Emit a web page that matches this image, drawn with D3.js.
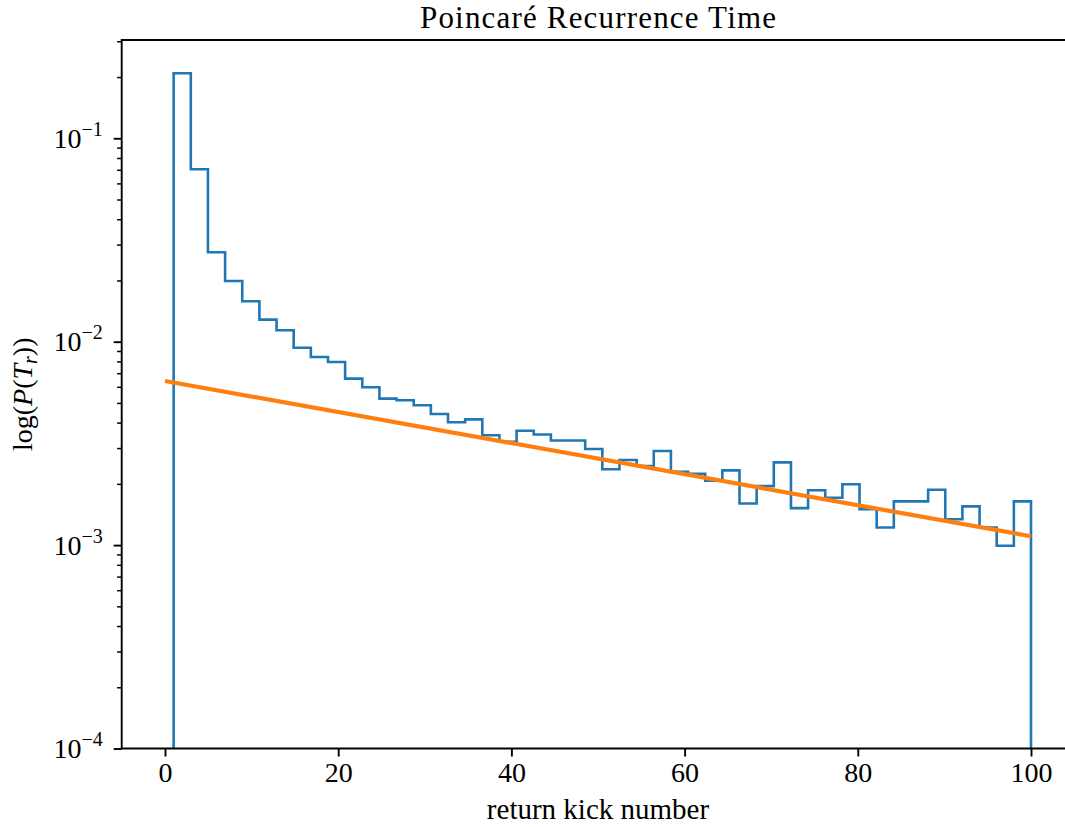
<!DOCTYPE html>
<html>
  <head>
    <meta charset="utf-8">
    <title>Poincaré Recurrence Time</title>
    <style>
      body { margin: 0; background: white; }
      .hist { fill: none; stroke: #1f77b4; stroke-width: 2.6; stroke-linejoin: miter; }
      .fit { fill: none; stroke: #ff7f0e; stroke-width: 4.2; }
      .spine { stroke: black; stroke-width: 1.9; fill: none; }
    </style>
  </head>
  <body>
    <script src="https://d3js.org/d3.v7.min.js"></script>
    <script>
      const width = 1065;
      const height = 827;
      const serif = "Liberation Serif, serif";

      // histogram: 50 bins between 1 and 100, densities
      const binStart = 1;
      const binEnd = 100;
      const density = [
        0.2089, 0.0704, 0.02751, 0.01987, 0.01580, 0.01283, 0.01138, 0.00934, 0.00841, 0.00795,
        0.00658, 0.00597, 0.00525, 0.00515, 0.00487, 0.00441, 0.00402, 0.00415, 0.00347, 0.00322,
        0.00365, 0.00350, 0.00327, 0.00327, 0.00297, 0.00236, 0.00262, 0.00245, 0.00290, 0.00229,
        0.00224, 0.00207, 0.00233, 0.00160, 0.00195, 0.00255, 0.00152, 0.00186, 0.00171, 0.00199,
        0.00150, 0.00122, 0.00164, 0.00164, 0.00187, 0.00134, 0.00155, 0.00122, 0.000993, 0.00164
      ];

      // exponential fit (straight on the log axis)
      const fitX = [0, 100];
      const fitY = [0.00641, 0.001105];

      const xTicks = [0, 20, 40, 60, 80, 100];
      const yMajor = [1e-4, 1e-3, 1e-2, 1e-1];
      const yExp = ["−4", "−3", "−2", "−1"];

      const axLeft = 121.7, axRight = 1074.3, axTop = 40, axBottom = 748.5;

      const x = d3.scaleLinear().domain([-5, 105]).range([axLeft, axRight]);
      const y = d3.scaleLog().domain([1e-4, 0.3042]).range([axBottom, axTop]);

      const svg = d3.select("body")
        .append("svg")
        .attr("width", width)
        .attr("height", height)
        .attr("font-family", serif);

      svg.append("clipPath")
        .attr("id", "plotArea")
        .append("rect")
        .attr("x", axLeft).attr("y", axTop)
        .attr("width", axRight - axLeft).attr("height", axBottom - axTop);

      const plot = svg.append("g").attr("clip-path", "url(#plotArea)");

      // step outline of the histogram
      const nBins = density.length;
      const edges = d3.range(nBins + 1).map(i => binStart + (binEnd - binStart) * i / nBins);
      const pts = [[x(edges[0]), axBottom + 10]];
      density.forEach((d, i) => {
        pts.push([x(edges[i]), y(d)]);
        pts.push([x(edges[i + 1]), y(d)]);
      });
      pts.push([x(edges[nBins]), axBottom + 10]);

      plot.append("path")
        .attr("class", "hist")
        .attr("d", d3.line()(pts));

      plot.append("path")
        .attr("class", "fit")
        .attr("d", d3.line().x(d => x(d[0])).y(d => y(d[1]))(fitX.map((v, i) => [v, fitY[i]])));

      // x axis
      const xAxis = svg.append("g")
        .attr("transform", `translate(0,${axBottom})`)
        .call(d3.axisBottom(x).tickValues(xTicks).tickSize(8).tickPadding(6).tickFormat(d3.format("d")));
      xAxis.attr("font-family", serif);
      xAxis.select(".domain").remove();
      xAxis.selectAll(".tick line").attr("stroke-width", 1.9);
      xAxis.selectAll(".tick text").attr("font-size", 28).attr("fill", "black");

      // y axis, minor ticks
      const yMinor = [];
      yMajor.forEach(p => {
        for (let k = 2; k <= 9; k++) if (p * k <= 0.3042) yMinor.push(p * k);
      });
      const yMinorAxis = svg.append("g")
        .attr("transform", `translate(${axLeft},0)`)
        .call(d3.axisLeft(y).tickValues(yMinor).tickSize(4.6).tickFormat(""));
      yMinorAxis.select(".domain").remove();
      yMinorAxis.selectAll(".tick line").attr("stroke-width", 1.5);

      // y axis, major ticks with 10^n labels
      const yAxis = svg.append("g")
        .attr("transform", `translate(${axLeft},0)`)
        .call(d3.axisLeft(y).tickValues(yMajor).tickSize(8).tickFormat(""));
      yAxis.attr("font-family", serif);
      yAxis.select(".domain").remove();
      yAxis.selectAll(".tick line").attr("stroke-width", 1.9);

      yAxis.selectAll(".tick")
        .append("text")
        .attr("x", -19)
        .attr("y", 9)
        .attr("text-anchor", "end")
        .attr("font-size", 28)
        .attr("fill", "black")
        .each(function(d, i) {
          const t = d3.select(this);
          t.append("tspan").text("10");
          t.append("tspan")
            .attr("font-size", 20)
            .attr("dy", -12)
            .text(yExp[i]);
        });

      // spines: left, top, bottom (right edge falls outside the picture)
      svg.append("path")
        .attr("class", "spine")
        .attr("d", `M${axRight},${axTop}H${axLeft}V${axBottom}H${axRight}`);

      // titles
      svg.append("text")
        .attr("x", (axLeft + axRight) / 2)
        .attr("y", 28)
        .attr("text-anchor", "middle")
        .attr("font-family", serif)
        .attr("font-size", 31)
        .attr("textLength", 356)
        .attr("lengthAdjust", "spacing")
        .text("Poincaré Recurrence Time");

      svg.append("text")
        .attr("x", (axLeft + axRight) / 2)
        .attr("y", 819)
        .attr("text-anchor", "middle")
        .attr("font-family", serif)
        .attr("font-size", 29)
        .text("return kick number");

      const yl = svg.append("text")
        .attr("transform", `translate(32,${(axTop + axBottom) / 2}) rotate(-90)`)
        .attr("text-anchor", "middle")
        .attr("font-family", serif)
        .attr("font-size", 28);
      yl.append("tspan").text("log(");
      yl.append("tspan").attr("font-style", "italic").text("P");
      yl.append("tspan").text("(");
      yl.append("tspan").attr("font-style", "italic").text("T");
      yl.append("tspan").attr("font-style", "italic").attr("font-size", 20).attr("dy", 5).text("r");
      yl.append("tspan").attr("dy", -5).text("))");
    </script>
  </body>
</html>
